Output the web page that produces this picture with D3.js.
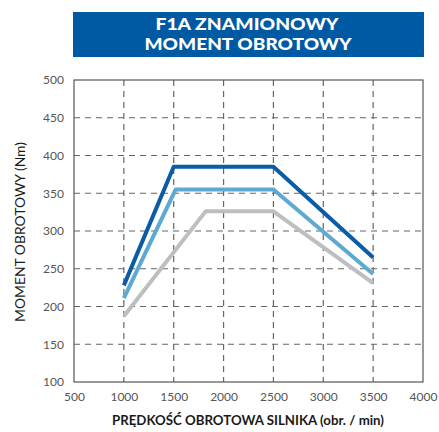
<!DOCTYPE html>
<html>
<head>
<meta charset="utf-8">
<script src="https://cdn.jsdelivr.net/npm/d3@7"></script>
<style>
  body { margin: 0; background: #fff; }
  text { font-family: "Lato", "Open Sans", sans-serif; }
</style>
</head>
<body>
<div id="chart"></div>
<script>
const X_TICKS = [500, 1000, 1500, 2000, 2500, 3000, 3500, 4000];
const Y_TICKS = [100, 150, 200, 250, 300, 350, 400, 450, 500];

const RPM_DARK = [1000, 1500, 2500, 3500];
const NM_DARK = [228, 385, 385, 265];
const RPM_LIGHT = [1000, 1520, 2500, 3500];
const NM_LIGHT = [211, 355, 355, 243];
const RPM_GRAY = [1000, 1820, 2500, 3500];
const NM_GRAY = [187, 326, 326, 231];

const SERIES = [
  { x: RPM_GRAY, y: NM_GRAY, color: "#bdbec0" },
  { x: RPM_LIGHT, y: NM_LIGHT, color: "#5ea9d1" },
  { x: RPM_DARK, y: NM_DARK, color: "#0a5ca6" }
];

const MARGIN = { TOP: 80, RIGHT: 16, BOTTOM: 50, LEFT: 74 };
const WIDTH = 439 - MARGIN.LEFT - MARGIN.RIGHT;
const HEIGHT = 432 - MARGIN.TOP - MARGIN.BOTTOM;

const SVG = d3.select("#chart").append("svg")
  .attr("width", 439)
  .attr("height", 432);

// title box
SVG.append("rect")
  .attr("x", 73).attr("y", 12)
  .attr("width", 351).attr("height", 45)
  .attr("fill", "#0059a3");
SVG.append("text")
  .attr("x", 247).attr("y", 30)
  .attr("text-anchor", "middle")
  .attr("fill", "#fff")
  .attr("font-size", 17.5).attr("font-weight", 900)
  .attr("textLength", 183).attr("lengthAdjust", "spacingAndGlyphs")
  .text("F1A ZNAMIONOWY");
SVG.append("text")
  .attr("x", 248).attr("y", 50)
  .attr("text-anchor", "middle")
  .attr("fill", "#fff")
  .attr("font-size", 17.5).attr("font-weight", 900)
  .attr("textLength", 207).attr("lengthAdjust", "spacingAndGlyphs")
  .text("MOMENT OBROTOWY");

const CHART = SVG.append("g")
  .attr("transform", "translate(" + MARGIN.LEFT + ", " + MARGIN.TOP + ")");

const X_SCALE = d3.scaleLinear().domain([500, 4000]).range([0, WIDTH]);
const Y_SCALE = d3.scaleLinear().domain([100, 500]).range([HEIGHT, 0]);

// dashed grid
CHART.append("g").selectAll("line")
  .data(X_TICKS.slice(1, -1))
  .enter().append("line")
  .attr("x1", (d) => X_SCALE(d)).attr("x2", (d) => X_SCALE(d))
  .attr("y1", 0).attr("y2", HEIGHT)
  .attr("stroke", "#666").attr("stroke-width", 1.2)
  .attr("stroke-dasharray", "6,5");
CHART.append("g").selectAll("line")
  .data(Y_TICKS.slice(1, -1))
  .enter().append("line")
  .attr("x1", 0).attr("x2", WIDTH)
  .attr("y1", (d) => Y_SCALE(d)).attr("y2", (d) => Y_SCALE(d))
  .attr("stroke", "#666").attr("stroke-width", 1.2)
  .attr("stroke-dasharray", "6,5");

CHART.append("rect")
  .attr("width", WIDTH).attr("height", HEIGHT)
  .attr("fill", "none")
  .attr("stroke", "#555").attr("stroke-width", 1.2);

const X_AXIS = d3.axisBottom(X_SCALE).tickValues(X_TICKS)
  .tickFormat(d3.format("d")).tickSize(0).tickPadding(10);
const Y_AXIS = d3.axisLeft(Y_SCALE).tickValues(Y_TICKS)
  .tickFormat(d3.format("d")).tickSize(0).tickPadding(10);

CHART.append("g")
  .attr("transform", "translate(0, " + HEIGHT + ")")
  .call(X_AXIS)
  .call((g) => g.select(".domain").remove())
  .selectAll("text")
  .attr("font-size", 12).attr("fill", "#555")
  .style("font-family", "Lato, sans-serif");

CHART.append("g")
  .call(Y_AXIS)
  .call((g) => g.select(".domain").remove())
  .selectAll("text")
  .attr("font-size", 12).attr("fill", "#555")
  .style("font-family", "Lato, sans-serif");

const LINE = d3.line()
  .x((d) => X_SCALE(d[0]))
  .y((d) => Y_SCALE(d[1]));

SERIES.forEach((s) => {
  CHART.append("path")
    .datum(s.x.map((x, i) => [x, s.y[i]]))
    .attr("d", LINE)
    .attr("fill", "none")
    .attr("stroke", s.color)
    .attr("stroke-width", 4)
    .attr("stroke-linejoin", "round");
});

SVG.append("text")
  .attr("x", 248).attr("y", 425)
  .attr("text-anchor", "middle")
  .attr("font-size", 13.5).attr("font-weight", 700)
  .attr("fill", "#1a1a1a")
  .attr("textLength", 272).attr("lengthAdjust", "spacingAndGlyphs")
  .text("PRĘDKOŚĆ OBROTOWA SILNIKA (obr. / min)");

SVG.append("text")
  .attr("transform", "rotate(-90)")
  .attr("x", -232).attr("y", 25)
  .attr("text-anchor", "middle")
  .attr("font-size", 13.5).attr("font-weight", 400)
  .attr("fill", "#1a1a1a")
  .attr("textLength", 180).attr("lengthAdjust", "spacingAndGlyphs")
  .text("MOMENT OBROTOWY (Nm)");
</script>
</body>
</html>
